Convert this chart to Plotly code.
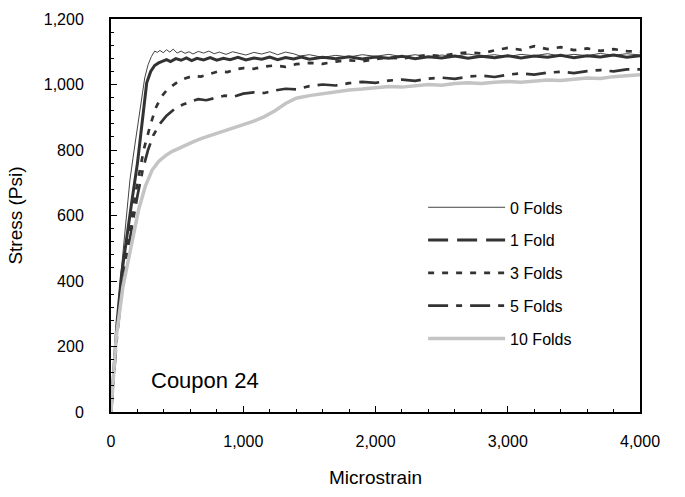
import plotly.graph_objects as go

# Stress-strain curves for Coupon 24 after repeated folding
strain_0 = [0, 15, 40, 70, 110, 143, 175, 205, 230, 255, 280, 305, 330, 350, 370, 395, 420, 445, 470,
            500, 530, 560, 590, 620, 660, 700, 740, 780, 820, 870, 920, 970, 1020, 1080, 1140, 1200,
            1260, 1320, 1380, 1430, 1500, 1600, 1700, 1800, 1900, 2000, 2100, 2200, 2300, 2400, 2500,
            2600, 2700, 2800, 2900, 3000, 3100, 3200, 3300, 3400, 3500, 3600, 3700, 3800, 3900, 4000]
stress_0 = [0, 95, 250, 400, 560, 708, 800, 880, 950, 1020, 1060, 1085, 1102, 1098, 1104, 1097, 1106,
            1099, 1108, 1096, 1102, 1095, 1100, 1093, 1101, 1096, 1102, 1094, 1099, 1092, 1100, 1095,
            1090, 1098, 1093, 1100, 1091, 1099, 1094, 1087, 1091, 1083, 1089, 1084, 1091, 1086, 1092,
            1085, 1091, 1084, 1090, 1086, 1093, 1087, 1091, 1085, 1092, 1088, 1094, 1087, 1092, 1088,
            1095, 1089, 1094, 1090]

strain_1 = [0, 20, 45, 80, 120, 160, 200, 240, 270, 300, 330, 360, 390, 420, 450, 490, 530, 570, 610,
            650, 700, 750, 800, 850, 900, 960, 1020, 1080, 1140, 1200, 1260, 1320, 1380, 1440, 1500,
            1600, 1700, 1800, 1900, 2000, 2100, 2200, 2300, 2400, 2500, 2600, 2700, 2800, 2900, 3000,
            3100, 3200, 3300, 3400, 3500, 3600, 3700, 3800, 3900, 4000]
stress_1 = [0, 115, 270, 420, 540, 650, 760, 900, 1005, 1040, 1058, 1066, 1072, 1076, 1070, 1079, 1074,
            1081, 1073, 1080, 1075, 1082, 1074, 1080, 1076, 1083, 1075, 1081, 1077, 1084, 1076, 1082,
            1078, 1084, 1077, 1083, 1079, 1085, 1078, 1084, 1080, 1086, 1079, 1085, 1081, 1087, 1080,
            1086, 1082, 1088, 1081, 1087, 1083, 1089, 1082, 1088, 1084, 1090, 1083, 1088]

strain_3 = [0, 20, 45, 80, 120, 160, 200, 250, 300, 340, 380, 420, 470, 520, 570, 620, 680, 740, 810,
            880, 940, 1000, 1080, 1160, 1240, 1320, 1400, 1500, 1600, 1700, 1800, 1900, 2000, 2100,
            2200, 2300, 2400, 2500, 2600, 2700, 2800, 2900, 3000, 3100, 3200, 3300, 3400, 3500, 3600,
            3700, 3800, 3900, 4000]
stress_3 = [0, 108, 250, 390, 505, 605, 700, 805, 880, 930, 962, 982, 998, 1012, 1020, 1026, 1024,
            1032, 1040, 1038, 1046, 1050, 1048, 1055, 1058, 1054, 1062, 1066, 1063, 1070, 1074, 1071,
            1078, 1082, 1079, 1086, 1090, 1087, 1094, 1098, 1095, 1104, 1112, 1106, 1117, 1108, 1114,
            1105, 1110, 1103, 1108, 1102, 1100]

strain_5 = [0, 20, 45, 80, 120, 160, 200, 240, 280, 320, 370, 420, 480, 540, 600, 660, 720, 790, 860,
            930, 1000, 1080, 1160, 1240, 1320, 1400, 1500, 1600, 1700, 1800, 1900, 2000, 2100, 2200,
            2300, 2400, 2500, 2600, 2700, 2800, 2900, 3000, 3100, 3200, 3300, 3400, 3500, 3600, 3700,
            3800, 3900, 4000]
stress_5 = [0, 100, 230, 365, 475, 570, 660, 740, 800, 845, 880, 905, 925, 938, 948, 955, 952, 960,
            966, 963, 972, 976, 974, 982, 987, 985, 995, 1000, 997, 1004, 1008, 1005, 1012, 1015, 1011,
            1018, 1021, 1017, 1024, 1027, 1023, 1030, 1034, 1030, 1036, 1039, 1035, 1041, 1044, 1040,
            1046, 1046]

strain_10 = [0, 15, 40, 90, 130, 166, 210, 260, 310, 360, 410, 460, 510, 560, 620, 680, 740, 800, 870,
             940, 1010, 1080, 1160, 1240, 1320, 1400, 1500, 1600, 1700, 1800, 1900, 2000, 2100, 2200,
             2300, 2400, 2500, 2600, 2700, 2800, 2900, 3000, 3100, 3200, 3300, 3400, 3500, 3600, 3700,
             3800, 3900, 4000]
stress_10 = [0, 95, 230, 382, 460, 534, 620, 690, 738, 765, 782, 795, 805, 815, 825, 835, 843, 850,
             860, 868, 878, 888, 902, 920, 942, 958, 966, 972, 978, 983, 986, 990, 994, 992, 997,
             1000, 998, 1003, 1005, 1003, 1007, 1009, 1007, 1011, 1014, 1012, 1017, 1020, 1018, 1024,
             1027, 1030]

series = [
    ("0 Folds", strain_0, stress_0, "#444444", 1, "solid"),
    ("1 Fold", strain_1, stress_1, "#333333", 3, "20px,9px"),
    ("3 Folds", strain_3, stress_3, "#333333", 2.7, "6px,8px"),
    ("5 Folds", strain_5, stress_5, "#333333", 2.7, "20px,8px,6px,8px"),
    ("10 Folds", strain_10, stress_10, "#c4c4c4", 3.5, "solid"),
]

fig = go.Figure()
for name, xs, ys, color, width, dash in series:
    # the densely sampled 1-fold record renders as an unbroken stroke; its key keeps the dash
    dense = name == "1 Fold"
    fig.add_trace(go.Scatter(
        x=xs, y=ys, mode="lines", name=name, legendgroup=name, showlegend=not dense,
        line=dict(color=color, width=width, dash="solid" if dense else dash),
    ))
    if dense:
        fig.add_trace(go.Scatter(
            x=[None], y=[None], mode="lines", name=name, legendgroup=name,
            line=dict(color=color, width=width, dash=dash), hoverinfo="skip",
        ))

font_family = "Liberation Sans, Arial, sans-serif"

fig.update_layout(
    width=685, height=497,
    margin=dict(l=111, r=45, t=19, b=85),
    paper_bgcolor="white", plot_bgcolor="white",
    font=dict(family=font_family, size=16, color="black"),
    showlegend=True,
    legend=dict(
        x=0.59, y=0.354, xanchor="left", yanchor="middle",
        bgcolor="rgba(0,0,0,0)", borderwidth=0,
        itemwidth=77, tracegroupgap=9, traceorder="grouped",
        font=dict(size=16, family=font_family),
    ),
    annotations=[dict(
        x=0.072, y=0.081, xref="paper", yref="paper", xanchor="left", yanchor="middle",
        text="Coupon 24", showarrow=False, font=dict(size=22, family=font_family),
    )],
)

fig.update_xaxes(
    range=[0, 4000], dtick=1000, tickformat=",d",
    showgrid=False, zeroline=False,
    showline=True, linecolor="black", linewidth=2, mirror=True,
    ticks="inside", ticklen=6, tickwidth=1, tickcolor="black",
    minor=dict(dtick=200, ticks="inside", ticklen=3, tickwidth=1, tickcolor="black"),
    ticklabelstandoff=14,
    title=dict(text="Microstrain", standoff=21),
)
fig.update_yaxes(
    range=[0, 1200], dtick=200, tickformat=",d",
    showgrid=False, zeroline=False,
    showline=True, linecolor="black", linewidth=2, mirror=True,
    ticks="inside", ticklen=6, tickwidth=1, tickcolor="black",
    minor=dict(dtick=40, ticks="inside", ticklen=3, tickwidth=1, tickcolor="black"),
    ticklabelstandoff=22,
    title=dict(text="Stress (Psi)", standoff=16),
)

fig.write_html("out.html")
